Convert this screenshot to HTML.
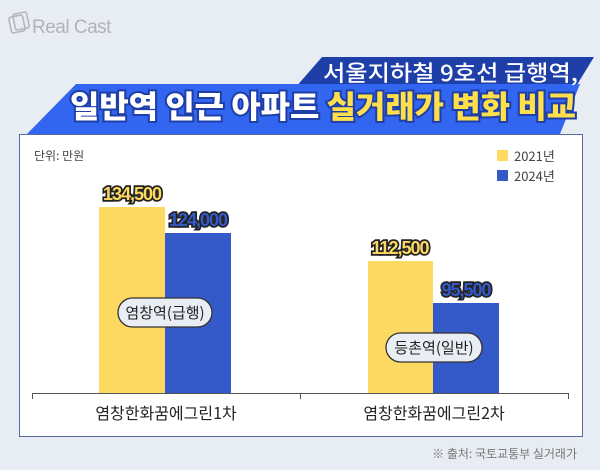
<!DOCTYPE html>
<html><head><meta charset="utf-8"><style>
body{margin:0;width:600px;height:470px;background:#e8edf4;position:relative;overflow:hidden;font-family:"Liberation Sans","Noto Sans CJK KR",sans-serif;}
.abs{position:absolute;}
</style></head><body>
<svg class="abs" style="left:0;top:0" width="600" height="470">
 <g fill="none" stroke="#b4b8bd" stroke-width="1.6">
  <rect x="10" y="16" width="14" height="16" rx="2" transform="rotate(-12 17 24)"/>
  <rect x="14" y="13" width="14" height="16" rx="2" transform="rotate(-12 21 21)"/>
 </g>
 <text x="32" y="33" font-size="19" fill="#b0b4b9" font-family="Liberation Sans, sans-serif" letter-spacing="-0.5">Real Cast</text>
 <polygon points="322,57 594,57 575,88 295,88" fill="#1f3fa8"/>
 <polygon points="76,84 580,84 560,134 27,134" fill="#3366f0"/>
 <text x="323" y="81" textLength="255" lengthAdjust="spacingAndGlyphs" font-size="22" fill="#fff" font-family="Noto Sans CJK KR, sans-serif" font-weight="500">서울지하철 9호선 급행역,</text>
 <text x="70" y="118" textLength="506" lengthAdjust="spacingAndGlyphs" font-size="31" font-weight="900" font-family="Noto Sans CJK KR, sans-serif" stroke="#1f3fa8" stroke-width="4" paint-order="stroke" fill="#fff">일반역 인근 아파트 <tspan fill="#ffe04a">실거래가 변화 비교</tspan></text>
 <rect x="19.5" y="134.5" width="563" height="302" fill="#fff" stroke="#5a6aa0" stroke-width="1"/>
 <text x="34" y="160" font-size="12" fill="#444" font-family="Noto Sans CJK KR, sans-serif">단위: 만원</text>
 <rect x="497" y="150" width="11" height="11" fill="#fdd962"/>
 <text x="514" y="161" font-size="13" fill="#444" font-family="Noto Sans CJK KR, sans-serif">2021년</text>
 <rect x="497" y="170" width="11" height="11" fill="#3459c8"/>
 <text x="514" y="181" font-size="13" fill="#444" font-family="Noto Sans CJK KR, sans-serif">2024년</text>
 <rect x="99" y="207" width="66" height="186" fill="#fdd962"/>
 <rect x="165" y="233" width="66" height="160" fill="#3459c8"/>
 <rect x="368" y="261" width="65" height="132" fill="#fdd962"/>
 <rect x="433" y="303" width="66" height="90" fill="#3459c8"/>
 <g font-size="18" font-weight="900" font-family="Liberation Sans, sans-serif" stroke="#222" stroke-width="3.5" paint-order="stroke" letter-spacing="-1" text-anchor="middle">
  <text x="132" y="200" fill="#fdd962">134,500</text>
  <text x="198" y="226" fill="#3459c8">124,000</text>
  <text x="400" y="254" fill="#fdd962">112,500</text>
  <text x="466" y="296" fill="#3459c8">95,500</text>
 </g>
 <rect x="118" y="298" width="94" height="29" rx="14.5" fill="#e9eef5" stroke="#333" stroke-width="1.3"/>
 <text x="165" y="318" text-anchor="middle" font-size="15" fill="#222" font-family="Noto Sans CJK KR, sans-serif">염창역(급행)</text>
 <rect x="386" y="333" width="96" height="29" rx="14.5" fill="#e9eef5" stroke="#333" stroke-width="1.3"/>
 <text x="434" y="353" text-anchor="middle" font-size="15" fill="#222" font-family="Noto Sans CJK KR, sans-serif">등촌역(일반)</text>
 <g stroke="#555" stroke-width="1">
  <line x1="32" y1="393.5" x2="569" y2="393.5"/>
  <line x1="32.5" y1="393" x2="32.5" y2="399"/>
  <line x1="300.5" y1="393" x2="300.5" y2="399"/>
  <line x1="568.5" y1="393" x2="568.5" y2="399"/>
 </g>
 <text x="166" y="419" text-anchor="middle" font-size="16" fill="#222" font-family="Noto Sans CJK KR, sans-serif">염창한화꿈에그린1차</text>
 <text x="434" y="419" text-anchor="middle" font-size="16" fill="#222" font-family="Noto Sans CJK KR, sans-serif">염창한화꿈에그린2차</text>
 <text x="577" y="458" text-anchor="end" font-size="12" fill="#777" font-family="Noto Sans CJK KR, sans-serif">※ 출처: 국토교통부 실거래가</text>
</svg>
</body></html>
